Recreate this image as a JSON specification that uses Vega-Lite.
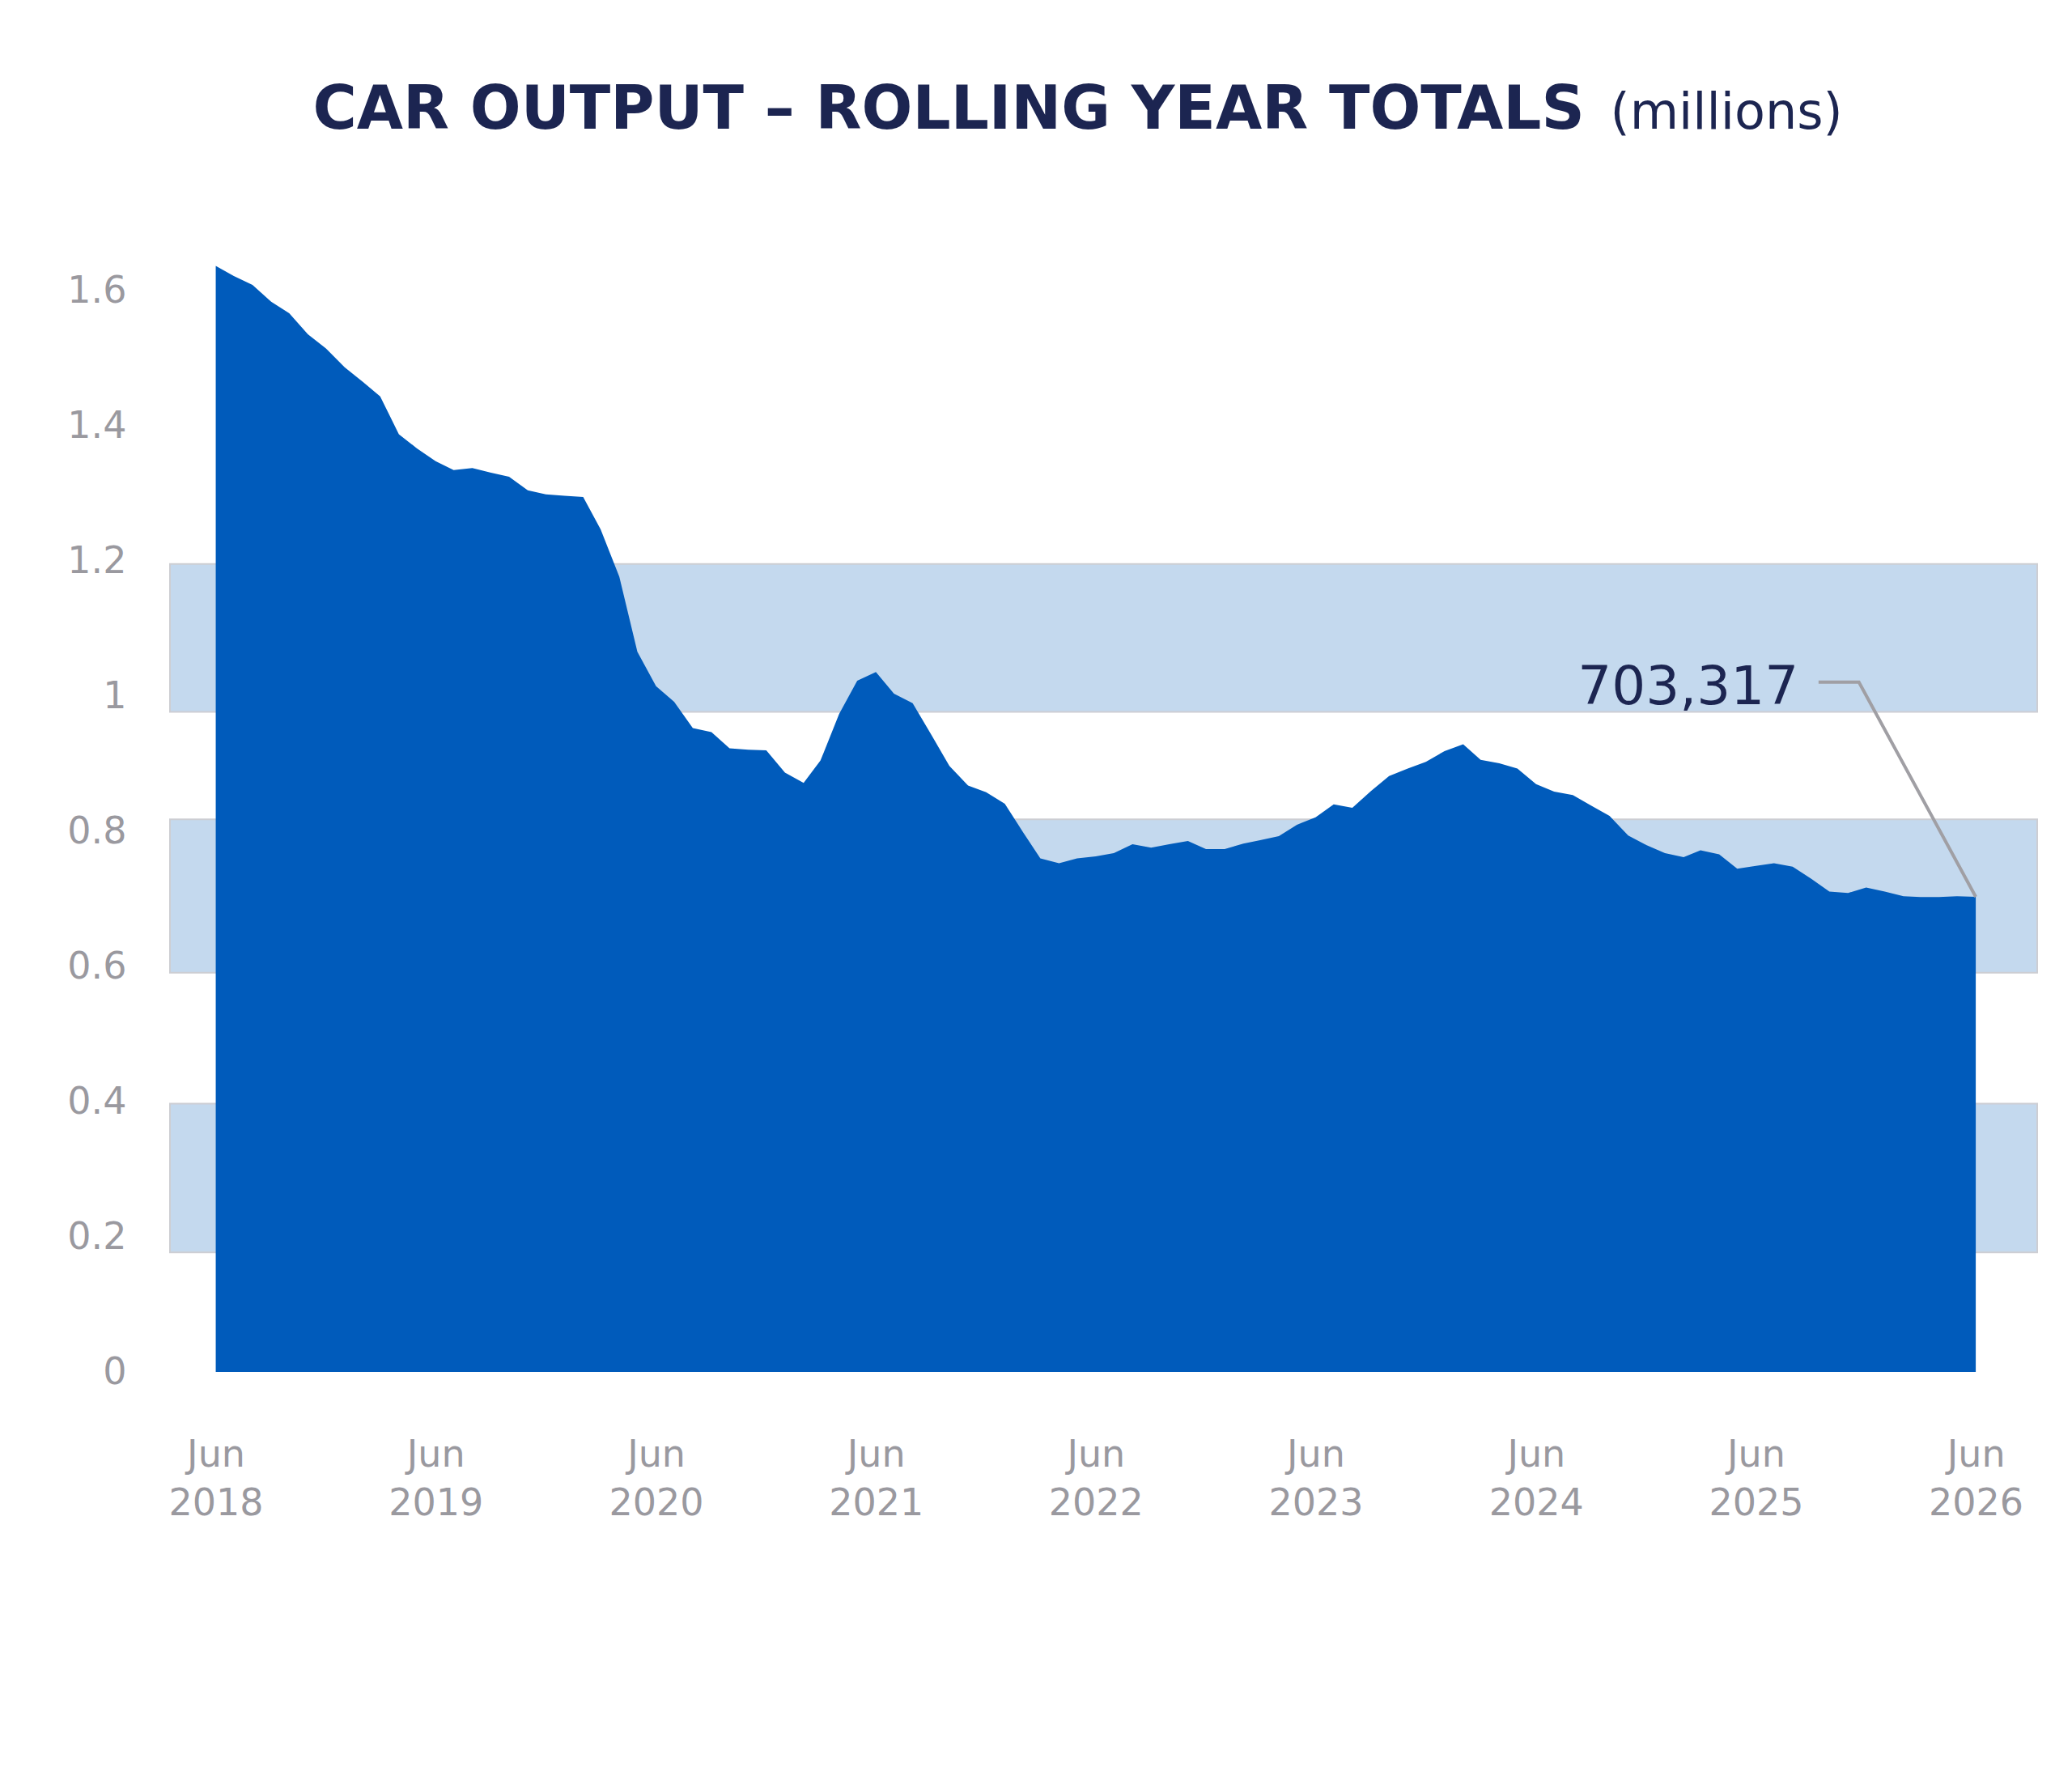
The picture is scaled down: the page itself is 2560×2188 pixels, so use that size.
{
  "$schema": "https://vega.github.io/schema/vega-lite/v6.json",
  "autosize": {"type": "none"},
  "width": 2307,
  "height": 1419,
  "padding": {"left": 210, "top": 276, "right": 43, "bottom": 493},
  "background": "white",
  "config": {"view": {"stroke": null}},
  "datasets": {
    "bands": [
      {"lo": 0.177, "hi": 0.397},
      {"lo": 0.591, "hi": 0.818},
      {"lo": 0.977, "hi": 1.196}
    ],
    "output": [
      {"date": "2018-06-01", "value": 1.637},
      {"date": "2018-07-01", "value": 1.622},
      {"date": "2018-08-01", "value": 1.609},
      {"date": "2018-09-01", "value": 1.584},
      {"date": "2018-10-01", "value": 1.567},
      {"date": "2018-11-01", "value": 1.536},
      {"date": "2018-12-01", "value": 1.515},
      {"date": "2019-01-01", "value": 1.487},
      {"date": "2019-02-01", "value": 1.465},
      {"date": "2019-03-01", "value": 1.444},
      {"date": "2019-04-01", "value": 1.388},
      {"date": "2019-05-01", "value": 1.367},
      {"date": "2019-06-01", "value": 1.348},
      {"date": "2019-07-01", "value": 1.335},
      {"date": "2019-08-01", "value": 1.338},
      {"date": "2019-09-01", "value": 1.331},
      {"date": "2019-10-01", "value": 1.325},
      {"date": "2019-11-01", "value": 1.305},
      {"date": "2019-12-01", "value": 1.299},
      {"date": "2020-01-01", "value": 1.297},
      {"date": "2020-02-01", "value": 1.295},
      {"date": "2020-03-01", "value": 1.247},
      {"date": "2020-04-01", "value": 1.177},
      {"date": "2020-05-01", "value": 1.066},
      {"date": "2020-06-01", "value": 1.015},
      {"date": "2020-07-01", "value": 0.992},
      {"date": "2020-08-01", "value": 0.953},
      {"date": "2020-09-01", "value": 0.947},
      {"date": "2020-10-01", "value": 0.923},
      {"date": "2020-11-01", "value": 0.921},
      {"date": "2020-12-01", "value": 0.920},
      {"date": "2021-01-01", "value": 0.887},
      {"date": "2021-02-01", "value": 0.872},
      {"date": "2021-03-01", "value": 0.905},
      {"date": "2021-04-01", "value": 0.974},
      {"date": "2021-05-01", "value": 1.023},
      {"date": "2021-06-01", "value": 1.036},
      {"date": "2021-07-01", "value": 1.004},
      {"date": "2021-08-01", "value": 0.990},
      {"date": "2021-09-01", "value": 0.943},
      {"date": "2021-10-01", "value": 0.897},
      {"date": "2021-11-01", "value": 0.868},
      {"date": "2021-12-01", "value": 0.858},
      {"date": "2022-01-01", "value": 0.841},
      {"date": "2022-02-01", "value": 0.798},
      {"date": "2022-03-01", "value": 0.760},
      {"date": "2022-04-01", "value": 0.753},
      {"date": "2022-05-01", "value": 0.760},
      {"date": "2022-06-01", "value": 0.763},
      {"date": "2022-07-01", "value": 0.768},
      {"date": "2022-08-01", "value": 0.781},
      {"date": "2022-09-01", "value": 0.776},
      {"date": "2022-10-01", "value": 0.781},
      {"date": "2022-11-01", "value": 0.786},
      {"date": "2022-12-01", "value": 0.774},
      {"date": "2023-01-01", "value": 0.774},
      {"date": "2023-02-01", "value": 0.782},
      {"date": "2023-03-01", "value": 0.787},
      {"date": "2023-04-01", "value": 0.793},
      {"date": "2023-05-01", "value": 0.810},
      {"date": "2023-06-01", "value": 0.821},
      {"date": "2023-07-01", "value": 0.840},
      {"date": "2023-08-01", "value": 0.835},
      {"date": "2023-09-01", "value": 0.860},
      {"date": "2023-10-01", "value": 0.882},
      {"date": "2023-11-01", "value": 0.893},
      {"date": "2023-12-01", "value": 0.903},
      {"date": "2024-01-01", "value": 0.919},
      {"date": "2024-02-01", "value": 0.929},
      {"date": "2024-03-01", "value": 0.906},
      {"date": "2024-04-01", "value": 0.901},
      {"date": "2024-05-01", "value": 0.893},
      {"date": "2024-06-01", "value": 0.870},
      {"date": "2024-07-01", "value": 0.859},
      {"date": "2024-08-01", "value": 0.854},
      {"date": "2024-09-01", "value": 0.838},
      {"date": "2024-10-01", "value": 0.823},
      {"date": "2024-11-01", "value": 0.794},
      {"date": "2024-12-01", "value": 0.780},
      {"date": "2025-01-01", "value": 0.768},
      {"date": "2025-02-01", "value": 0.762},
      {"date": "2025-03-01", "value": 0.772},
      {"date": "2025-04-01", "value": 0.766},
      {"date": "2025-05-01", "value": 0.745},
      {"date": "2025-06-01", "value": 0.749},
      {"date": "2025-07-01", "value": 0.753},
      {"date": "2025-08-01", "value": 0.748},
      {"date": "2025-09-01", "value": 0.730},
      {"date": "2025-10-01", "value": 0.711},
      {"date": "2025-11-01", "value": 0.709},
      {"date": "2025-12-01", "value": 0.717},
      {"date": "2026-01-01", "value": 0.711},
      {"date": "2026-02-01", "value": 0.704},
      {"date": "2026-03-01", "value": 0.703},
      {"date": "2026-04-01", "value": 0.703},
      {"date": "2026-05-01", "value": 0.704},
      {"date": "2026-06-01", "value": 0.703317}
    ],
    "leader": [
      {"date": "2025-09-13", "value": 1.021},
      {"date": "2025-11-19", "value": 1.021},
      {"date": "2026-06-01", "value": 0.703317}
    ],
    "callout": [
      {"date": "2025-08-11", "value": 0.9885, "label": "703,317"}
    ]
  },
  "layer": [
    {
      "data": {"name": "bands"},
      "mark": {"type": "rect", "fill": "#c4d9ee", "stroke": "#cdced3", "strokeWidth": 2},
      "encoding": {
        "y": {"field": "lo", "type": "quantitative"},
        "y2": {"field": "hi"}
      }
    },
    {
      "data": {"name": "output"},
      "mark": {"type": "area", "color": "#005bbb", "interpolate": "linear"},
      "encoding": {
        "x": {
          "field": "date",
          "type": "temporal",
          "scale": {
            "type": "utc",
            "domain": [
              {"year": 2018, "month": 3, "date": 17, "utc": true},
              {"year": 2026, "month": 9, "date": 11, "utc": true}
            ]
          },
          "axis": {
            "title": "(millions)",
            "titleAngle": 0,
            "titleAlign": "left",
            "titleBaseline": "alphabetic",
            "titleAnchor": null,
            "titleX": 1779,
            "titleY": -1537,
            "titleFont": "DejaVu Sans",
            "titleFontWeight": "normal",
            "titleFontSize": 62,
            "titleColor": "#1c2551",
            "domain": false,
            "ticks": false,
            "grid": false,
            "values": [
              {"year": 2018, "month": 6, "date": 1, "utc": true},
              {"year": 2019, "month": 6, "date": 1, "utc": true},
              {"year": 2020, "month": 6, "date": 1, "utc": true},
              {"year": 2021, "month": 6, "date": 1, "utc": true},
              {"year": 2022, "month": 6, "date": 1, "utc": true},
              {"year": 2023, "month": 6, "date": 1, "utc": true},
              {"year": 2024, "month": 6, "date": 1, "utc": true},
              {"year": 2025, "month": 6, "date": 1, "utc": true},
              {"year": 2026, "month": 6, "date": 1, "utc": true}
            ],
            "labelExpr": "[utcFormat(datum.value, '%b'), utcFormat(datum.value, '%Y')]",
            "labelFont": "DejaVu Sans",
            "labelFontSize": 46,
            "labelColor": "#9a999f",
            "labelBaseline": "top",
            "labelLineHeight": 60,
            "labelPadding": 80,
            "labelFlush": false,
            "labelOverlap": false
          }
        },
        "y": {
          "field": "value",
          "type": "quantitative",
          "scale": {"domain": [0, 1.7], "nice": false, "zero": true},
          "axis": {
            "title": "CAR OUTPUT – ROLLING YEAR TOTALS",
            "titleAngle": 0,
            "titleAlign": "left",
            "titleBaseline": "alphabetic",
            "titleAnchor": null,
            "titleX": 176,
            "titleY": -118,
            "titleFont": "DejaVu Sans",
            "titleFontWeight": "bold",
            "titleFontSize": 74,
            "titleColor": "#1c2551",
            "domain": false,
            "ticks": false,
            "grid": false,
            "values": [0, 0.2, 0.4, 0.6, 0.8, 1, 1.2, 1.4, 1.6],
            "format": "~g",
            "labelFont": "DejaVu Sans",
            "labelFontSize": 46,
            "labelColor": "#9a999f",
            "labelPadding": 54
          }
        }
      }
    },
    {
      "data": {"name": "leader"},
      "mark": {"type": "line", "color": "#a09fa4", "strokeWidth": 4},
      "encoding": {
        "x": {"field": "date", "type": "temporal"},
        "y": {"field": "value", "type": "quantitative"}
      }
    },
    {
      "data": {"name": "callout"},
      "mark": {
        "type": "text",
        "align": "right",
        "baseline": "alphabetic",
        "font": "DejaVu Sans",
        "fontSize": 66,
        "color": "#1c2551"
      },
      "encoding": {
        "x": {"field": "date", "type": "temporal"},
        "y": {"field": "value", "type": "quantitative"},
        "text": {"field": "label"}
      }
    }
  ]
}
